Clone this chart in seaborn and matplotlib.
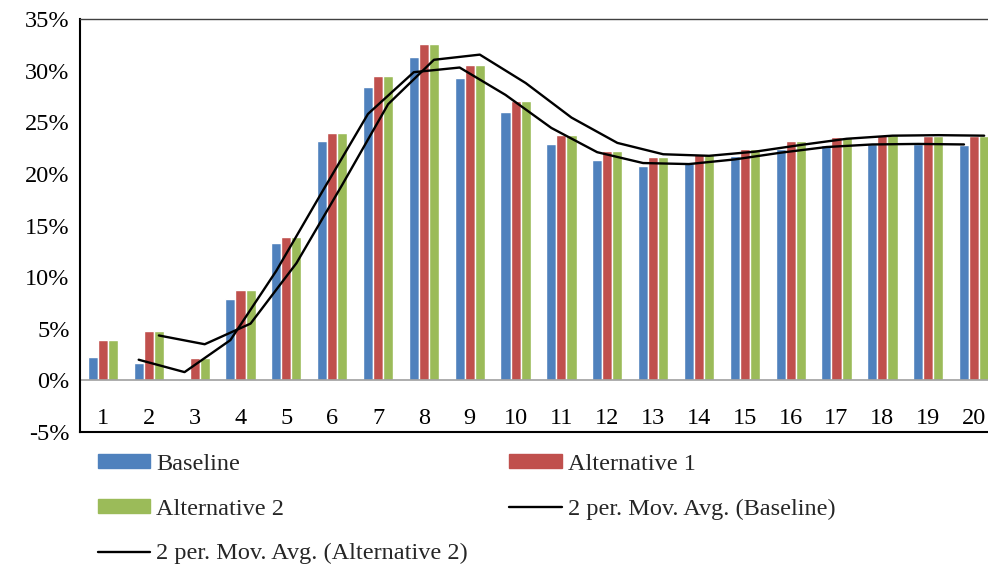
import numpy as np
import pandas as pd
import matplotlib
matplotlib.use('Agg')
import matplotlib.pyplot as plt
import seaborn as sns
from matplotlib.patches import Patch
from matplotlib.lines import Line2D
from matplotlib.ticker import FuncFormatter

sns.set_theme(style='white')
plt.rcParams['font.family'] = ['Liberation Serif', 'DejaVu Serif']

# Data (percent)
periods = [str(i) for i in range(1, 21)]
baseline = [2.3, 1.7, -0.1, 7.9, 13.3, 23.2, 28.4, 31.3, 29.3, 26.0,
            22.9, 21.3, 20.8, 21.1, 21.7, 22.4, 22.8, 22.9, 22.9, 22.8]
alternative_1 = [3.9, 4.8, 2.2, 8.8, 13.9, 24.0, 29.5, 32.6, 30.5, 27.1,
                 23.8, 22.2, 21.6, 21.9, 22.4, 23.2, 23.6, 23.8, 23.7, 23.7]
alternative_2 = [3.9, 4.8, 2.2, 8.8, 13.9, 24.0, 29.5, 32.6, 30.5, 27.1,
                 23.8, 22.2, 21.6, 21.9, 22.4, 23.2, 23.6, 23.8, 23.7, 23.7]
series_names = ['Baseline', 'Alternative 1', 'Alternative 2']
colors = ['#4F81BD', '#C0504D', '#9BBB59']

FS = 17.5

df = pd.DataFrame({'period': periods, 'Baseline': baseline,
                   'Alternative 1': alternative_1, 'Alternative 2': alternative_2})
long_df = df.melt(id_vars='period', var_name='series', value_name='value')

fig = plt.figure(figsize=(9.88, 5.70), dpi=100)
ax = fig.add_axes([80 / 988, 1 - 432 / 570, 917 / 988, 413 / 570])

group_w = 0.66
sns.barplot(data=long_df, x='period', y='value', hue='series', order=periods,
            hue_order=series_names, palette=colors, width=group_w,
            saturation=1, ax=ax, legend=False)

# 2-period moving averages (Excel trendlines sit at the bar centre of their series)
bar_w = group_w / 3
pos = np.arange(len(periods))
ma_base = df['Baseline'].rolling(2).mean()
ma_alt2 = df['Alternative 2'].rolling(2).mean()
ax.plot(pos - bar_w, ma_base, color='black', lw=1.7)
ax.plot(pos + bar_w, ma_alt2, color='black', lw=1.7)

ax.axhline(0, color='#A0A0A0', lw=1.2, zorder=1)
ax.set_ylim(-5, 35)
ax.set_xlim(-0.5, 19.5)
ax.set_yticks(np.arange(-5, 36, 5))
ax.yaxis.set_major_formatter(FuncFormatter(lambda v, p: f'{v:.0f}%'))
ax.set_xlabel('')
ax.set_ylabel('')
ax.tick_params(axis='y', length=0, pad=7.5, labelsize=FS, colors='black')
ax.tick_params(axis='x', length=0, pad=-17, labelsize=FS, colors='black')

for side in ['left', 'bottom']:
    ax.spines[side].set_color('black')
    ax.spines[side].set_linewidth(1.5)
ax.spines['top'].set_color('#404040')
ax.spines['top'].set_linewidth(1.0)
ax.spines['right'].set_visible(False)

handles = [Patch(color=colors[0]), Patch(color=colors[2]),
           Line2D([], [], color='black', lw=1.7),
           Patch(color=colors[1]), Line2D([], [], color='black', lw=1.7)]
labels = ['Baseline', 'Alternative 2', '2 per. Mov. Avg. (Alternative 2)',
          'Alternative 1', '2 per. Mov. Avg. (Baseline)']
fig.legend(handles, labels, ncol=2, loc='upper left',
           bbox_to_anchor=(98 / 988, 1 - 454 / 570), frameon=False,
           fontsize=FS, handlelength=2.15, handleheight=0.5,
           handletextpad=0.25, labelspacing=0.97, columnspacing=1.7,
           borderpad=0, borderaxespad=0)

fig.savefig('out.png', dpi=100)
